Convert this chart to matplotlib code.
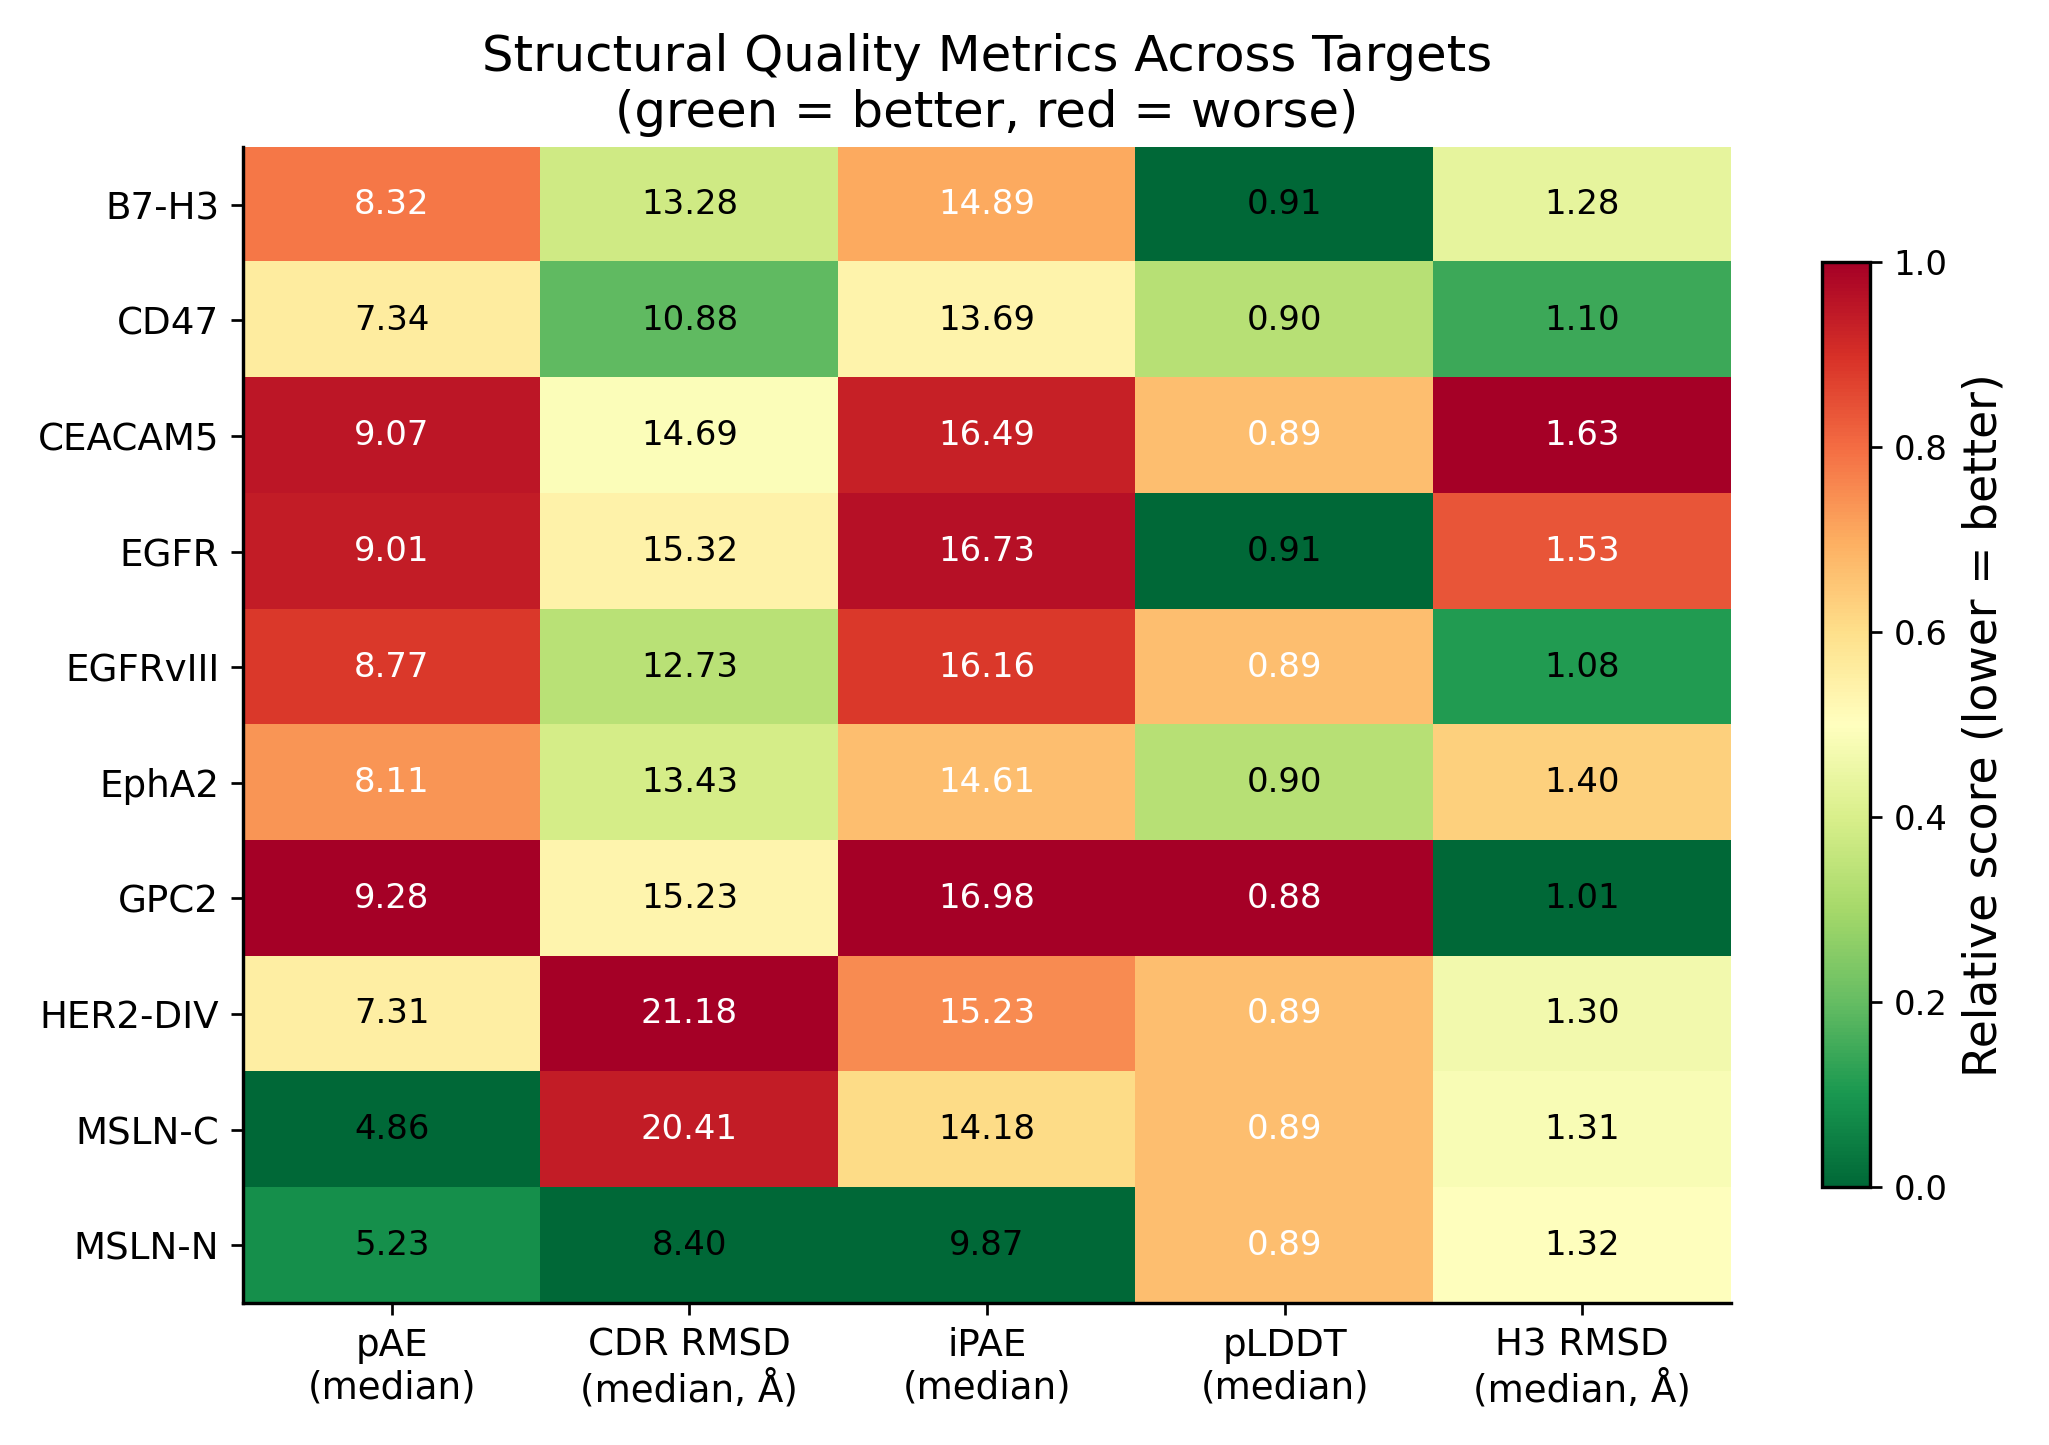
import numpy as np
import matplotlib
matplotlib.use("Agg")
import matplotlib.pyplot as plt

targets = ["B7-H3", "CD47", "CEACAM5", "EGFR", "EGFRvIII",
           "EphA2", "GPC2", "HER2-DIV", "MSLN-C", "MSLN-N"]
metric_labels = ["pAE\n(median)", "CDR RMSD\n(median, Å)", "iPAE\n(median)",
                 "pLDDT\n(median)", "H3 RMSD\n(median, Å)"]

pae = [8.32, 7.34, 9.07, 9.01, 8.77, 8.11, 9.28, 7.31, 4.86, 5.23]
cdr_rmsd = [13.28, 10.88, 14.69, 15.32, 12.73, 13.43, 15.23, 21.18, 20.41, 8.40]
ipae = [14.89, 13.69, 16.49, 16.73, 16.16, 14.61, 16.98, 15.23, 14.18, 9.87]
plddt = [0.91, 0.90, 0.89, 0.91, 0.89, 0.90, 0.88, 0.89, 0.89, 0.89]
h3_rmsd = [1.28, 1.10, 1.63, 1.53, 1.08, 1.40, 1.01, 1.30, 1.31, 1.32]

# pLDDT: higher is better, so its score is flipped
higher_is_better = [False, False, False, True, False]

raw = np.array([pae, cdr_rmsd, ipae, plddt, h3_rmsd]).T
score = np.zeros_like(raw)
for j in range(raw.shape[1]):
    col = raw[:, j]
    s = (col - col.min()) / (col.max() - col.min())
    score[:, j] = 1 - s if higher_is_better[j] else s

DPI = 244
fig = plt.figure(figsize=(2049 / DPI, 1445 / DPI), dpi=DPI)
ax = fig.add_axes([0.1186, 0.0983, 0.7262, 0.8000])
cax = fig.add_axes([0.8892, 0.1785, 0.0234, 0.640])

im = ax.imshow(score, cmap="RdYlGn_r", vmin=0, vmax=1, aspect="auto",
               interpolation="nearest")

for i in range(raw.shape[0]):
    for j in range(raw.shape[1]):
        color = "white" if score[i, j] > 0.65 else "black"
        ax.text(j, i, f"{raw[i, j]:.2f}", ha="center", va="center",
                color=color, fontsize=10)

ax.set_xticks(range(len(metric_labels)))
ax.set_xticklabels(metric_labels, fontsize=11)
ax.set_yticks(range(len(targets)))
ax.set_yticklabels(targets, fontsize=11)
for side in ["top", "right"]:
    ax.spines[side].set_visible(False)
for side in ["left", "bottom"]:
    ax.spines[side].set_linewidth(1.0)
ax.set_title("Structural Quality Metrics Across Targets\n"
             "(green = better, red = worse)", fontsize=14.7)

cbar = fig.colorbar(im, cax=cax)
cbar.set_label("Relative score (lower = better)", fontsize=13.5)
cbar.outline.set_linewidth(1.0)
cbar.set_ticks([0.0, 0.2, 0.4, 0.6, 0.8, 1.0])

fig.savefig("out.png", dpi=DPI)
plt.close(fig)
